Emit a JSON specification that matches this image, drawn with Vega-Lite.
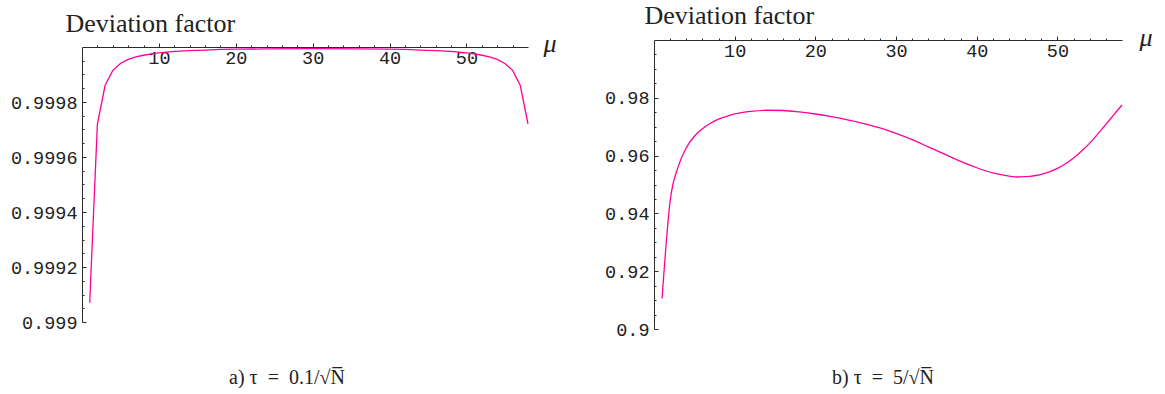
{
  "$schema": "https://vega.github.io/schema/vega-lite/v6.json",
  "background": "white",
  "padding": {"left": 10, "top": 2, "right": 0, "bottom": 0},
  "spacing": 47,
  "config": {
    "view": {"stroke": null},
    "axis": {
      "grid": false,
      "domainColor": "#2b2b2b",
      "tickColor": "#2b2b2b",
      "domainWidth": 1,
      "tickWidth": 1,
      "labelFont": "Liberation Mono",
      "labelFontSize": 18.5,
      "labelColor": "#222222",
      "labelOverlap": false,
      "labelFlush": false,
      "titleColor": "#222222",
      "titleFontWeight": "normal"
    }
  },
  "datasets": {
    "tau_small": [
      {"mu": 1, "factor": 0.99907},
      {"mu": 2, "factor": 0.99972},
      {"mu": 3, "factor": 0.99986},
      {"mu": 4, "factor": 0.999915},
      {"mu": 5, "factor": 0.99994},
      {"mu": 6, "factor": 0.999955},
      {"mu": 7, "factor": 0.999964},
      {"mu": 8, "factor": 0.99997},
      {"mu": 9, "factor": 0.999975},
      {"mu": 10, "factor": 0.999979},
      {"mu": 12, "factor": 0.999984},
      {"mu": 14, "factor": 0.999987},
      {"mu": 16, "factor": 0.999989},
      {"mu": 18, "factor": 0.999991},
      {"mu": 20, "factor": 0.999992},
      {"mu": 24, "factor": 0.999993},
      {"mu": 30, "factor": 0.999994},
      {"mu": 36, "factor": 0.999993},
      {"mu": 40, "factor": 0.999992},
      {"mu": 42, "factor": 0.999991},
      {"mu": 44, "factor": 0.999989},
      {"mu": 46, "factor": 0.999987},
      {"mu": 48, "factor": 0.999984},
      {"mu": 50, "factor": 0.999979},
      {"mu": 51, "factor": 0.999975},
      {"mu": 52, "factor": 0.99997},
      {"mu": 53, "factor": 0.999964},
      {"mu": 54, "factor": 0.999955},
      {"mu": 55, "factor": 0.99994},
      {"mu": 56, "factor": 0.999915},
      {"mu": 57, "factor": 0.99986},
      {"mu": 58, "factor": 0.99972}
    ],
    "tau_large": [
      {"mu": 1, "factor": 0.9106},
      {"mu": 2, "factor": 0.9443},
      {"mu": 3, "factor": 0.9562},
      {"mu": 4, "factor": 0.9627},
      {"mu": 5, "factor": 0.9667},
      {"mu": 6, "factor": 0.9693},
      {"mu": 7, "factor": 0.9712},
      {"mu": 8, "factor": 0.9726},
      {"mu": 9, "factor": 0.9736},
      {"mu": 10, "factor": 0.9744},
      {"mu": 12, "factor": 0.9753},
      {"mu": 14, "factor": 0.9757},
      {"mu": 16, "factor": 0.9756},
      {"mu": 18, "factor": 0.9751},
      {"mu": 20, "factor": 0.9744},
      {"mu": 22, "factor": 0.9735},
      {"mu": 24, "factor": 0.9724},
      {"mu": 26, "factor": 0.9711},
      {"mu": 28, "factor": 0.9696},
      {"mu": 30, "factor": 0.9677},
      {"mu": 32, "factor": 0.9655},
      {"mu": 34, "factor": 0.963},
      {"mu": 36, "factor": 0.9605},
      {"mu": 38, "factor": 0.958},
      {"mu": 40, "factor": 0.9558},
      {"mu": 42, "factor": 0.954},
      {"mu": 44, "factor": 0.9529},
      {"mu": 45, "factor": 0.9526},
      {"mu": 46, "factor": 0.9527},
      {"mu": 48, "factor": 0.9535},
      {"mu": 50, "factor": 0.9556},
      {"mu": 51, "factor": 0.9572},
      {"mu": 52, "factor": 0.9592},
      {"mu": 53, "factor": 0.9616},
      {"mu": 54, "factor": 0.9643},
      {"mu": 55, "factor": 0.9675},
      {"mu": 56, "factor": 0.9708},
      {"mu": 57, "factor": 0.9742},
      {"mu": 58, "factor": 0.9775}
    ]
  },
  "hconcat": [
    {
      "width": 446,
      "height": 282,
      "data": {"name": "tau_small"},
      "title": {
        "text": "a) τ\u2002=\u20020.1/√N̅",
        "orient": "bottom",
        "anchor": "middle",
        "frame": "group",
        "offset": 52,
        "baseline": "alphabetic",
        "dx": -18,
        "font": "Liberation Serif",
        "fontSize": 20,
        "fontWeight": "normal",
        "color": "#222222"
      },
      "layer": [
        {
          "mark": {"type": "line", "color": "#ff0099", "strokeWidth": 1.3},
          "encoding": {
            "x": {
              "field": "mu",
              "type": "quantitative",
              "scale": {"domain": [0, 58], "nice": false, "zero": false},
              "axis": {
                "orient": "top",
                "offset": -7,
                "values": [10, 20, 30, 40, 50],
                "tickSize": 4,
                "labelBaseline": "top",
                "labelPadding": -5,
                "title": "μ",
                "titleFont": "Liberation Serif",
                "titleFontStyle": "italic",
                "titleFontSize": 26,
                "titleAngle": 0,
                "titleAlign": "left",
                "titleBaseline": "alphabetic",
                "titleX": 461,
                "titleY": 4
              }
            },
            "y": {
              "field": "factor",
              "type": "quantitative",
              "scale": {"domain": [0.999, 1.0], "range": [282, 7], "nice": false, "zero": false},
              "axis": {
                "orient": "left",
                "values": [0.999, 0.9992, 0.9994, 0.9996, 0.9998],
                "format": ".4~f",
                "tickSize": -4,
                "labelPadding": 9,
                "title": "Deviation factor",
                "titleFont": "Liberation Serif",
                "titleFontSize": 26,
                "titleAngle": 0,
                "titleAlign": "left",
                "titleBaseline": "alphabetic",
                "titleX": -17,
                "titleY": -9
              }
            }
          }
        },
        {
          "mark": {"type": "line", "strokeOpacity": 0},
          "encoding": {
            "x": {
              "field": "mu",
              "type": "quantitative",
              "axis": {
                "orient": "top",
                "offset": -7,
                "values": [2, 4, 6, 8, 12, 14, 16, 18, 22, 24, 26, 28, 32, 34, 36, 38, 42, 44, 46, 48, 52, 54, 56],
                "tickSize": 2,
                "labels": false,
                "domain": false,
                "title": null
              }
            },
            "y": {
              "field": "factor",
              "type": "quantitative",
              "axis": {
                "orient": "left",
                "values": [0.99905, 0.9991, 0.99915, 0.99925, 0.9993, 0.99935, 0.99945, 0.9995, 0.99955, 0.99965, 0.9997, 0.99975, 0.99985, 0.9999, 0.99995],
                "tickSize": -2,
                "labels": false,
                "domain": false,
                "title": null
              }
            }
          }
        }
      ],
      "resolve": {"axis": {"x": "independent", "y": "independent"}}
    },
    {
      "width": 468,
      "height": 289,
      "data": {"name": "tau_large"},
      "title": {
        "text": "b) τ\u2002=\u20025/√N̅",
        "orient": "bottom",
        "anchor": "middle",
        "frame": "group",
        "offset": 45,
        "baseline": "alphabetic",
        "dx": -5,
        "font": "Liberation Serif",
        "fontSize": 20,
        "fontWeight": "normal",
        "color": "#222222"
      },
      "layer": [
        {
          "mark": {"type": "line", "color": "#ff0099", "strokeWidth": 1.3, "interpolate": "monotone"},
          "encoding": {
            "x": {
              "field": "mu",
              "type": "quantitative",
              "scale": {"domain": [0, 58], "nice": false, "zero": false},
              "axis": {
                "orient": "top",
                "values": [10, 20, 30, 40, 50],
                "tickSize": 4,
                "labelBaseline": "top",
                "labelPadding": -5,
                "title": "μ",
                "titleFont": "Liberation Serif",
                "titleFontStyle": "italic",
                "titleFontSize": 26,
                "titleAngle": 0,
                "titleAlign": "left",
                "titleBaseline": "alphabetic",
                "titleX": 485,
                "titleY": 5
              }
            },
            "y": {
              "field": "factor",
              "type": "quantitative",
              "scale": {"domain": [0.9, 1.0], "nice": false, "zero": false},
              "axis": {
                "orient": "left",
                "values": [0.9, 0.92, 0.94, 0.96, 0.98],
                "format": ".2~f",
                "tickSize": -4,
                "labelPadding": 9,
                "title": "Deviation factor",
                "titleFont": "Liberation Serif",
                "titleFontSize": 26,
                "titleAngle": 0,
                "titleAlign": "left",
                "titleBaseline": "alphabetic",
                "titleX": -10,
                "titleY": -17
              }
            }
          }
        },
        {
          "mark": {"type": "line", "strokeOpacity": 0},
          "encoding": {
            "x": {
              "field": "mu",
              "type": "quantitative",
              "axis": {
                "orient": "top",
                "values": [2, 4, 6, 8, 12, 14, 16, 18, 22, 24, 26, 28, 32, 34, 36, 38, 42, 44, 46, 48, 52, 54, 56],
                "tickSize": 2,
                "labels": false,
                "domain": false,
                "title": null
              }
            },
            "y": {
              "field": "factor",
              "type": "quantitative",
              "axis": {
                "orient": "left",
                "values": [0.905, 0.91, 0.915, 0.925, 0.93, 0.935, 0.945, 0.95, 0.955, 0.965, 0.97, 0.975, 0.985, 0.99, 0.995],
                "tickSize": -2,
                "labels": false,
                "domain": false,
                "title": null
              }
            }
          }
        }
      ],
      "resolve": {"axis": {"x": "independent", "y": "independent"}}
    }
  ]
}
